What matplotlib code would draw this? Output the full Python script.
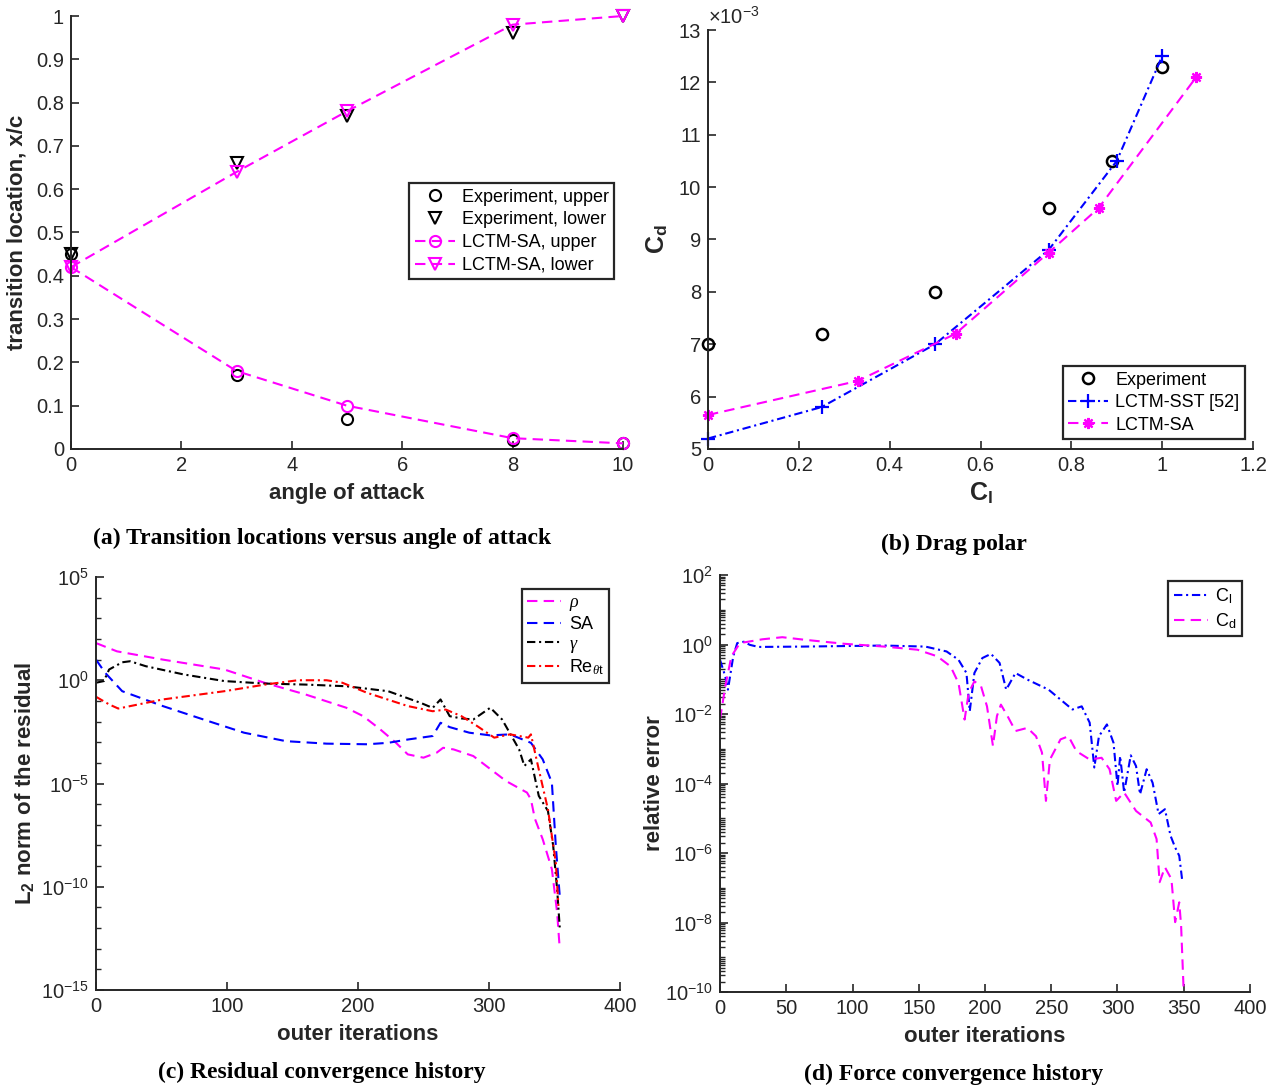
import matplotlib
matplotlib.use('Agg')
import matplotlib.pyplot as plt
import numpy as np
from matplotlib.ticker import FixedLocator, FuncFormatter, LogLocator, NullFormatter

plt.rcParams['font.family'] = ['Liberation Sans', 'DejaVu Sans']
plt.rcParams['mathtext.fontset'] = 'custom'
plt.rcParams['mathtext.rm'] = 'Liberation Sans'
plt.rcParams['mathtext.it'] = 'Liberation Serif:italic'
plt.rcParams['mathtext.bf'] = 'Liberation Sans:bold'
plt.rcParams['axes.unicode_minus'] = False

# (a) transition location vs angle of attack
aoa = [0, 3, 5, 8, 10]
exp_upper = [0.45, 0.17, 0.07, 0.02, 0.013]
exp_lower = [0.45, 0.66, 0.77, 0.96, 1.0]
sa_upper = [0.42, 0.18, 0.10, 0.025, 0.013]
sa_lower = [0.42, 0.64, 0.78, 0.98, 1.0]

# (b) drag polar
cl_exp = [0, 0.25, 0.5, 0.75, 0.89, 1.0]
cd_exp = [7.0e-3, 7.2e-3, 8.0e-3, 9.6e-3, 10.5e-3, 12.3e-3]
cl_sst = [0, 0.25, 0.5, 0.75, 0.9, 1.0]
cd_sst = [5.2e-3, 5.8e-3, 7.0e-3, 8.8e-3, 10.5e-3, 12.5e-3]
cl_sa = [0, 0.33, 0.545, 0.75, 0.86, 1.075]
cd_sa = [5.65e-3, 6.3e-3, 7.2e-3, 8.75e-3, 9.6e-3, 12.1e-3]

# (c) residual history, log10 of residual
rho_it = [0, 16, 51, 98, 129, 160, 191, 204, 217, 229, 238, 250, 260, 265, 273, 288, 301, 313, 329, 332, 335, 341, 348, 352, 354]
rho_log = [1.8, 1.4, 1.0, 0.52, -0.13, -0.69, -1.33, -1.74, -2.38, -3.03, -3.59, -3.75, -3.51, -3.27, -3.35, -3.67, -4.3, -4.88, -5.44, -5.77, -6.7, -7.7, -9.15, -11.24, -13.0]
sa_it = [0, 7, 20, 51, 82, 113, 145, 176, 207, 223, 238, 257, 263, 270, 285, 301, 316, 332, 341, 348, 351, 354]
sa_log = [1.0, 0.36, -0.53, -1.25, -1.9, -2.54, -2.95, -3.07, -3.1, -3.03, -2.87, -2.7, -2.06, -2.27, -2.54, -2.67, -2.62, -3.03, -3.83, -4.96, -8.02, -10.44]
gam_it = [0, 6, 10, 20, 26, 38, 67, 98, 129, 160, 191, 223, 248, 257, 263, 270, 279, 288, 301, 310, 323, 327, 332, 338, 345, 349, 352, 354]
gam_log = [-0.12, -0.04, 0.52, 0.87, 0.92, 0.68, 0.28, -0.04, -0.16, -0.21, -0.29, -0.53, -1.1, -1.34, -0.93, -1.74, -1.85, -1.9, -1.33, -1.9, -3.35, -4.15, -3.83, -5.6, -6.33, -8.02, -10.12, -11.97]
ret_it = [0, 10, 17, 51, 98, 129, 154, 176, 188, 207, 238, 257, 267, 279, 291, 304, 316, 330, 332, 338, 345, 351, 353]
ret_log = [-0.8, -1.17, -1.37, -0.93, -0.53, -0.21, 0.0, 0.0, -0.12, -0.61, -1.25, -1.5, -1.42, -1.74, -2.22, -2.78, -2.62, -2.78, -2.62, -4.32, -6.25, -8.83, -10.93]

# (d) force history, log10 of relative error
fcl_it = [0, 4, 6, 10, 13, 18, 22.5, 29, 63, 124, 155, 171, 180, 186, 188.5, 192, 198, 204.5, 211, 216, 223, 232, 248, 266, 273, 279, 282.5, 286, 292, 297, 300, 302, 305, 310, 314, 317, 322, 326.5, 331, 335.8, 340, 343.5, 346.6, 349]
fcl_log = [-0.44, -0.92, -1.3, -0.34, 0.04, 0.08, -0.01, -0.07, -0.06, -0.03, -0.06, -0.2, -0.44, -0.82, -1.92, -0.82, -0.39, -0.27, -0.53, -1.3, -0.82, -1.01, -1.3, -1.87, -1.78, -2.25, -3.54, -2.64, -2.3, -2.83, -4.07, -3.21, -4.26, -3.19, -3.5, -4.31, -3.59, -3.98, -4.88, -4.74, -5.5, -5.84, -6.08, -6.84]
fcd_it = [0, 4, 8.6, 15, 32, 47, 63, 94, 124, 149, 164, 174, 180, 184.6, 187.7, 192, 197, 201.5, 206, 209, 212, 217, 223, 232, 238.5, 243, 246, 249, 257, 263, 269, 279, 288, 294, 299, 305, 314, 325, 329.5, 331.8, 335.8, 340.7, 343.5, 346.6, 348, 351]
fcd_log = [-2.16, -1.2, -0.34, 0.04, 0.15, 0.21, 0.14, 0.02, -0.06, -0.15, -0.34, -0.63, -1.11, -2.16, -1.39, -1.06, -1.2, -1.78, -2.92, -2.06, -1.73, -2.06, -2.49, -2.4, -2.64, -3.11, -4.5, -3.31, -2.73, -2.64, -3.07, -3.31, -3.26, -3.59, -4.5, -4.26, -4.79, -5.12, -5.6, -6.84, -6.41, -6.75, -7.99, -7.42, -8.09, -11.0]

AX = '#262626'
MAG = '#ff00ff'
DASH = (5, 3)
DASHDOT = (4, 1.8, 1, 1.8)
TICK_FS = 14.5
LAB_FS = 16
LEG_FS = 13

fig = plt.figure(figsize=(12.82, 10.88), dpi=100)
W, H = 1282.0, 1088.0

def make_ax(l, r, t, b):
    return fig.add_axes([l / W, 1 - b / H, (r - l) / W, (b - t) / H])

def style(ax):
    for s in ['top', 'right']:
        ax.spines[s].set_visible(False)
    for s in ['left', 'bottom']:
        ax.spines[s].set_color(AX)
        ax.spines[s].set_linewidth(1.4)
    ax.tick_params(which='major', direction='in', length=6, width=1.2, color=AX,
                   labelsize=TICK_FS, labelcolor=AX, pad=5)
    ax.tick_params(which='minor', direction='in', length=3.5, width=1.0, color=AX)
    ax.patch.set_alpha(0)

def legend(ax, loc, anchor, hl=2.2, ls=0.25):
    lg = ax.legend(loc=loc, bbox_to_anchor=anchor, fontsize=LEG_FS, fancybox=False,
                   edgecolor=AX, framealpha=1, handlelength=hl, borderpad=0.3,
                   labelspacing=ls, handletextpad=0.4, borderaxespad=0)
    lg.get_frame().set_linewidth(1.6)
    return lg

gfmt = FuncFormatter(lambda v, p: '%g' % round(v, 6))
lfmt = FuncFormatter(lambda v, p: r'$\mathdefault{10^{%d}}$' % round(np.log10(v)))

# ---- (a)
ax = make_ax(71, 623, 16, 449)
style(ax)
ax.plot(aoa, exp_upper, 'o', ls='none', color='k', mfc='none', ms=8, mew=1.5, label='Experiment, upper')
ax.plot(aoa, exp_lower, 'v', ls='none', color='k', mfc='none', ms=9, mew=1.5, label='Experiment, lower')
ax.plot(aoa, sa_upper, 'o', ls='--', dashes=DASH, color=MAG, mfc='none', ms=8, mew=1.5, lw=1.5, label='LCTM-SA, upper')
ax.plot(aoa, sa_lower, 'v', ls='--', dashes=DASH, color=MAG, mfc='none', ms=9, mew=1.5, lw=1.5, label='LCTM-SA, lower')
ax.set_xlim(0, 10)
ax.set_ylim(0, 1)
ax.set_xticks(np.arange(0, 11, 2))
ax.set_yticks(np.arange(0, 1.01, 0.1))
ax.xaxis.set_major_formatter(gfmt)
ax.yaxis.set_major_formatter(gfmt)
ax.set_xlabel('angle of attack', fontsize=LAB_FS, fontweight='bold', color=AX, labelpad=6)
ax.set_ylabel('transition location, x/c', fontsize=LAB_FS, fontweight='bold', color=AX, labelpad=6)
for t in ax.get_lines():
    t.set_clip_on(False)
legend(ax, 'upper right', (0.984, 0.614), hl=2.2, ls=0.32)

# ---- (b)
ax = make_ax(708, 1253, 30, 449)
style(ax)
ax.plot(cl_exp, cd_exp, 'o', ls='none', color='k', mfc='none', ms=8, mew=1.8, label='Experiment')
ax.plot(cl_sst, cd_sst, '+', ls='-.', dashes=DASHDOT, color='#0000ff', ms=10, mew=1.6, lw=1.5, label='LCTM-SST [52]')
ax.plot(cl_sa, cd_sa, marker=(8, 2, 0), ls='--', dashes=DASH, color=MAG, ms=8, mew=1.6, lw=1.5, label='LCTM-SA')
ax.set_xlim(0, 1.2)
ax.set_ylim(5e-3, 13e-3)
ax.set_xticks(np.arange(0, 1.21, 0.2))
ax.set_yticks(np.arange(5, 13.1, 1) * 1e-3)
ax.xaxis.set_major_formatter(gfmt)
ax.yaxis.set_major_formatter(FuncFormatter(lambda v, p: '%g' % round(v * 1e3, 4)))
ax.text(0.0, 1.005, r'$\times\mathdefault{10^{-3}}$', transform=ax.transAxes, fontsize=TICK_FS,
        color=AX, ha='left', va='bottom')
ax.set_xlabel(r'C$_\mathbf{l}$', fontsize=LAB_FS + 2, fontweight='bold', color=AX, labelpad=4)
ax.set_ylabel(r'C$_\mathbf{d}$', fontsize=LAB_FS + 2, fontweight='bold', color=AX, labelpad=6)
for t in ax.get_lines():
    t.set_clip_on(False)
legend(ax, 'lower right', (0.985, 0.024), hl=2.2, ls=0.3)

# ---- (c)
ax = make_ax(96, 620, 577, 990)
style(ax)
ax.semilogy(rho_it, 10.0 ** np.array(rho_log), ls='--', dashes=DASH, color=MAG, lw=1.5, label=r'$\rho$')
ax.semilogy(sa_it, 10.0 ** np.array(sa_log), ls='--', dashes=DASH, color='#0000ff', lw=1.5, label='SA')
ax.semilogy(gam_it, 10.0 ** np.array(gam_log), ls='-.', dashes=DASHDOT, color='k', lw=1.5, label=r'$\gamma$')
ax.semilogy(ret_it, 10.0 ** np.array(ret_log), ls='-.', dashes=DASHDOT, color='#ff0000', lw=1.5, label=r'Re$_{\theta\mathrm{t}}$')
ax.set_xlim(0, 400)
ax.set_ylim(1e-15, 1e5)
ax.set_xticks(np.arange(0, 401, 100))
ax.yaxis.set_major_locator(FixedLocator([1e-15, 1e-10, 1e-5, 1e0, 1e5]))
ax.yaxis.set_minor_locator(FixedLocator([10.0 ** k for k in range(-15, 6)]))
ax.yaxis.set_major_formatter(lfmt)
ax.yaxis.set_minor_formatter(NullFormatter())
ax.set_xlabel('outer iterations', fontsize=LAB_FS, fontweight='bold', color=AX, labelpad=6)
ax.set_ylabel(r'L$_\mathbf{2}$ norm of the residual', fontsize=LAB_FS, fontweight='bold', color=AX, labelpad=4)
legend(ax, 'upper right', (0.979, 0.971), hl=1.9, ls=0.15)

# ---- (d)
ax = make_ax(720, 1250, 575, 992)
style(ax)
ax.semilogy(fcl_it, 10.0 ** np.array(fcl_log), ls='-.', dashes=DASHDOT, color='#0000ff', lw=1.5, label=r'C$_\mathrm{l}$')
ax.semilogy(fcd_it, 10.0 ** np.array(fcd_log), ls='--', dashes=DASH, color=MAG, lw=1.5, label=r'C$_\mathrm{d}$')
ax.set_xlim(0, 400)
ax.set_ylim(1e-10, 1e2)
ax.set_xticks(np.arange(0, 401, 50))
ax.yaxis.set_major_locator(FixedLocator([10.0 ** k for k in range(-10, 3, 2)]))
ax.yaxis.set_minor_locator(LogLocator(base=10, subs=np.arange(1, 10), numticks=100))
ax.yaxis.set_major_formatter(lfmt)
ax.yaxis.set_minor_formatter(NullFormatter())
ax.set_xlabel('outer iterations', fontsize=LAB_FS, fontweight='bold', color=AX, labelpad=6)
ax.set_ylabel('relative error', fontsize=LAB_FS, fontweight='bold', color=AX, labelpad=0)
legend(ax, 'upper right', (0.985, 0.986), hl=1.9, ls=0.3)

# captions
cap = dict(fontsize=17, fontweight='bold', family='Liberation Serif', ha='center', va='center')
fig.text(322 / W, 1 - 538 / H, '(a) Transition locations versus angle of attack', **cap)
fig.text(954 / W, 1 - 544 / H, '(b) Drag polar', **cap)
fig.text(322 / W, 1 - 1072 / H, '(c) Residual convergence history', **cap)
fig.text(954 / W, 1 - 1074 / H, '(d) Force convergence history', **cap)

fig.savefig('out.png', dpi=100)
